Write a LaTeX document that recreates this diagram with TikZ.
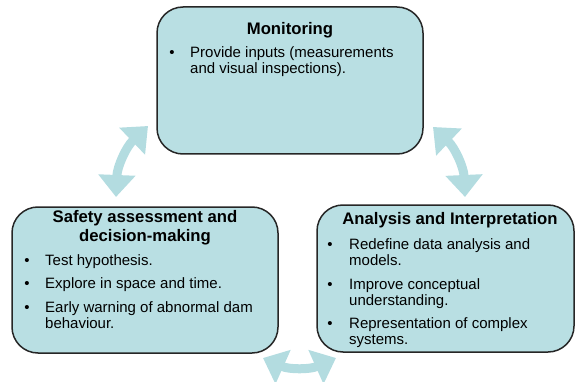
\documentclass[tikz,border=0pt]{standalone}
\usepackage{fontspec}
\setmainfont{Liberation Sans}
\usetikzlibrary{arrows.meta}
\definecolor{boxfill}{HTML}{B9DFE3}
\definecolor{arrowfill}{HTML}{B3DCE0}
\definecolor{boxline}{HTML}{262626}
\begin{document}
\begin{tikzpicture}[x=1pt,y=-1pt,
  card/.style={draw=boxline, line width=1.5pt, fill=boxfill, rounded corners=26pt, inner sep=0pt},
  head/.style={font=\fontsize{16.7}{18}\selectfont\bfseries, anchor=base, inner sep=0pt},
  body/.style={font=\fontsize{15}{16}\selectfont, anchor=base west, inner sep=0pt},
  dot/.style={font=\fontsize{15}{16}\selectfont, anchor=base, inner sep=0pt},
  cyclearrow/.style={draw=arrowfill, line width=9pt,
    {Triangle[width=36pt,length=22pt]}-{Triangle[width=36pt,length=22pt]}}]
\useasboundingbox (0,0) rectangle (580,382);

% the three stages
\node[card, minimum width=266pt, minimum height=147pt] (mon) at (290,80.5) {};
\node[card, minimum width=266pt, minimum height=146pt] (saf) at (145,280) {};
\node[card, minimum width=257pt, minimum height=147pt] (ana) at (445.5,278.5) {};

% Monitoring
\node[head] (monT) at (290,35) {Monitoring};
\node[dot]  (monB1) at (172,58) {•};
\node[body] (monL1) at (190,58) {Provide inputs (measurements};
\node[body] (monL2) at (190,74) {and visual inspections).};

% Safety assessment
\node[head] (safT1) at (145,222) {Safety assessment and};
\node[head] (safT2) at (145,241) {decision-making};
\node[dot]  (safB1) at (27,265) {•};
\node[dot]  (safB2) at (27,288) {•};
\node[dot]  (safB3) at (27,312) {•};
\node[body] (safL1) at (45,265) {Test hypothesis.};
\node[body] (safL2) at (45,288) {Explore in space and time.};
\node[body] (safL3) at (45,312) {Early warning of abnormal dam};
\node[body] (safL4) at (45,328) {behaviour.};

% Analysis and interpretation
\node[head] (anaT) at (450,224) {Analysis and Interpretation};
\node[dot]  (anaB1) at (330,249) {•};
\node[dot]  (anaB2) at (330,289) {•};
\node[dot]  (anaB3) at (330,328) {•};
\node[body] (anaL1) at (349,249) {Redefine data analysis and};
\node[body] (anaL2) at (349,265) {models.};
\node[body] (anaL3) at (349,289) {Improve conceptual};
\node[body] (anaL4) at (349,305) {understanding.};
\node[body] (anaL5) at (349,328) {Representation of complex};
\node[body] (anaL6) at (349,344) {systems.};

% arrow tip positions of the cycle
\coordinate (tipSafUp)    at (116,197);
\coordinate (tipMonLeft)  at (148,126);
\coordinate (tipMonRight) at (433,127);
\coordinate (tipAnaUp)    at (465,197);
\coordinate (tipSafDown)  at (263,358);
\coordinate (tipAnaDown)  at (336,358);

\draw[cyclearrow] (tipSafUp) to[bend left=22] (tipMonLeft);
\draw[cyclearrow] (tipMonRight) to[bend left=22] (tipAnaUp);
\draw[cyclearrow] (tipSafDown) to[bend right=24] (tipAnaDown);
\end{tikzpicture}
\end{document}
